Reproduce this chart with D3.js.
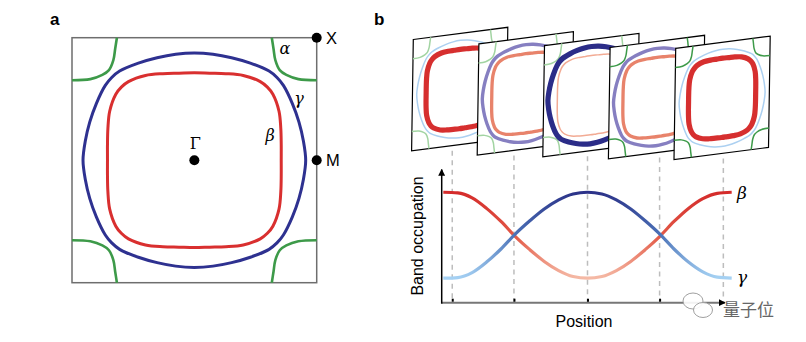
<!DOCTYPE html>
<html><head><meta charset="utf-8">
<script src="https://cdn.jsdelivr.net/npm/d3@7"></script>
<style>body{margin:0;background:#fff}svg{display:block}</style>
</head><body>
<script>
// Fermi surface contours: radius (in units of Gamma-M) at angles of the first quadrant
var fsAngles = [0, 10, 20, 30, 40, 45, 50, 60, 70, 80, 90];
var betaRadius = [0.71, 0.721, 0.752, 0.799, 0.838, 0.844, 0.838, 0.799, 0.752, 0.721, 0.713];
var gammaRadius = [0.91, 0.905, 0.91, 0.925, 0.95, 0.955, 0.95, 0.915, 0.89, 0.878, 0.875];
// alpha pocket around X = (1,1), mirrored to the other corners
var alphaKx = [0.633, 0.647, 0.662, 0.698, 0.752, 0.85, 1.0];
var alphaKy = [1.0, 0.91, 0.816, 0.735, 0.696, 0.662, 0.653];

// band occupation along position
var position = [0, 5, 10, 15, 20, 25, 30, 35, 40, 45, 50, 55, 60, 65, 70, 75, 80, 85, 90, 95, 100];
var betaOcc = [0.843, 0.838, 0.80, 0.72, 0.62, 0.505, 0.405, 0.315, 0.245, 0.20, 0.187, 0.20, 0.245, 0.315, 0.405, 0.505, 0.62, 0.72, 0.795, 0.835, 0.843];
var gammaOcc = [0.187, 0.192, 0.23, 0.31, 0.41, 0.525, 0.625, 0.715, 0.785, 0.83, 0.843, 0.83, 0.785, 0.715, 0.625, 0.525, 0.41, 0.31, 0.235, 0.195, 0.187];

// snapshots shown as the tilted Fermi surface panels
var snapPos = [3.1, 24.5, 50, 75, 97.1];
var snapBeta = [0.84, 0.51, 0.19, 0.51, 0.84];
var snapGamma = [0.19, 0.52, 0.84, 0.52, 0.19];

var W = 806, H = 342;
var svg = d3.select("body").append("svg").attr("width", W).attr("height", H);
var sans = "'Liberation Sans', Arial, sans-serif";
var serif = "'DejaVu Serif', 'Liberation Serif', serif";

// build a closed four-fold contour from the quadrant radii
function contour(radius) {
    var pts = [];
    [[1, 1], [-1, 1], [-1, -1], [1, -1]].forEach(function(s, q) {
        var idx = d3.range(fsAngles.length);
        if (q % 2 == 1) idx.reverse();
        idx.forEach(function(i, j) {
            if (q > 0 && j == 0) return;
            if (q == 3 && j == idx.length - 1) return;
            var a = fsAngles[i] * Math.PI / 180;
            pts.push([s[0] * radius[i] * Math.cos(a), s[1] * radius[i] * Math.sin(a)]);
        });
    });
    return pts;
}
function pockets() {
    return [[1, 1], [-1, 1], [-1, -1], [1, -1]].map(function(s) {
        return alphaKx.map(function(x, i) { return [s[0] * x, s[1] * alphaKy[i]]; });
    });
}

// ---------- panel a ----------
var kx = d3.scaleLinear().domain([-1, 1]).range([72, 316.7]);
var ky = d3.scaleLinear().domain([-1, 1]).range([282.7, 37.7]);
var closedA = d3.line().x(function(d) { return kx(d[0]); }).y(function(d) { return ky(d[1]); }).curve(d3.curveCatmullRomClosed);
var openA = d3.line().x(function(d) { return kx(d[0]); }).y(function(d) { return ky(d[1]); }).curve(d3.curveCatmullRom);

svg.append("rect")
    .attr("x", kx(-1)).attr("y", ky(1))
    .attr("width", kx(1) - kx(-1)).attr("height", ky(-1) - ky(1))
    .attr("fill", "none").attr("stroke", "#6e6e6e").attr("stroke-width", 1.5);

pockets().forEach(function(p) {
    svg.append("path").attr("d", openA(p))
        .attr("fill", "none").attr("stroke", "#3d9a49").attr("stroke-width", 2.6);
});
svg.append("path").attr("d", closedA(contour(gammaRadius)))
    .attr("fill", "none").attr("stroke", "#2e3190").attr("stroke-width", 3);
svg.append("path").attr("d", closedA(contour(betaRadius)))
    .attr("fill", "none").attr("stroke", "#d92f2f").attr("stroke-width", 3);

[[0, 0], [1, 0], [1, 1]].forEach(function(p) {
    svg.append("circle").attr("cx", kx(p[0])).attr("cy", ky(p[1])).attr("r", 5).attr("fill", "#000");
});

svg.append("text").attr("x", 50).attr("y", 25).attr("font-family", sans).attr("font-weight", 700)
    .attr("font-size", 17).text("a");
svg.append("text").attr("x", 326).attr("y", 43.5).attr("font-family", sans).attr("font-size", 16.5).text("X");
svg.append("text").attr("x", 326).attr("y", 165.5).attr("font-family", sans).attr("font-size", 16.5).text("M");
svg.append("text").attr("x", kx(0) + 1).attr("y", 149).attr("text-anchor", "middle")
    .attr("font-family", serif).attr("font-size", 16).text("Γ");
[["α", 285, 54], ["γ", 299, 104], ["β", 270, 141]].forEach(function(t) {
    svg.append("text").attr("x", t[1]).attr("y", t[2]).attr("text-anchor", "middle")
        .attr("font-family", serif).attr("font-style", "italic").attr("font-size", 16).text(t[0]);
});

// ---------- panel b, bottom chart ----------
var xb = d3.scaleLinear().domain([0, 100]).range([443.3, 731.7]);
var yb = d3.scaleLinear().domain([0, 1]).range([302.7, 171.7]);

var betaLineColor = d3.scaleLinear().domain([0.19, 0.51, 0.84]).range(["#f5b9a5", "#e35a47", "#d42b2b"]);
var gammaLineColor = d3.scaleLinear().domain([0.19, 0.51, 0.84]).range(["#a5d1f3", "#4c74b9", "#2c3389"]);
var betaPanelColor = d3.scaleLinear().domain([0.19, 0.51, 0.84]).range(["#f2ab94", "#e8836b", "#d62f2f"]);
var gammaPanelColor = d3.scaleLinear().domain([0.19, 0.51, 0.84]).range(["#acd0f1", "#8982c3", "#2b2c88"]);
var widthScale = d3.scaleLinear().domain([0.19, 0.84]).range([1.5, 5.2]);
var alphaShade = ["#a2d4a2", "#a2d4a2", "#a2d4a2", "#3d9a49", "#3d9a49"];

// tilted Fermi surface panels
var pu = d3.scaleLinear().domain([-1, 1]).range([0, 100]);
var pv = d3.scaleLinear().domain([-1, 1]).range([100, 0]);
var closedP = d3.line().x(function(d) { return pu(d[0]); }).y(function(d) { return pv(d[1]); }).curve(d3.curveCatmullRomClosed);
var openP = d3.line().x(function(d) { return pu(d[0]); }).y(function(d) { return pv(d[1]); }).curve(d3.curveCatmullRom);
var panelTop = [39.5, 43.8, 45.6, 47.5, 48.3];

snapPos.forEach(function(p, i) {
    var ox = 413.3 + i * 65.6, oy = panelTop[i];
    var g = svg.append("g").attr("transform", "matrix(0.945,-0.122,-0.017,1.113," + ox + "," + oy + ")");
    g.append("rect").attr("width", 100).attr("height", 100)
        .attr("fill", "#fff").attr("stroke", "#000").attr("stroke-width", 1.2)
        .attr("vector-effect", "non-scaling-stroke");
    pockets().forEach(function(q) {
        g.append("path").attr("d", openP(q)).attr("fill", "none")
            .attr("stroke", alphaShade[i]).attr("stroke-width", 1.5)
            .attr("vector-effect", "non-scaling-stroke");
    });
    g.append("path").attr("d", closedP(contour(gammaRadius))).attr("fill", "none")
        .attr("stroke", gammaPanelColor(snapGamma[i])).attr("stroke-width", widthScale(snapGamma[i]))
        .attr("vector-effect", "non-scaling-stroke");
    g.append("path").attr("d", closedP(contour(betaRadius))).attr("fill", "none")
        .attr("stroke", betaPanelColor(snapBeta[i])).attr("stroke-width", widthScale(snapBeta[i]))
        .attr("vector-effect", "non-scaling-stroke");

    // dashed guide from the panel down to the axis
    var xp = xb(p);
    var bottom = oy + 111.3 - 0.122 * ((xp - ox) / 0.945);
    svg.append("line").attr("x1", xp).attr("x2", xp).attr("y1", bottom + 5).attr("y2", yb(0))
        .attr("stroke", "#bdbdbd").attr("stroke-width", 1.5).attr("stroke-dasharray", "5,4.5");
});

// arrowheads
var defs = svg.append("defs");
defs.append("marker").attr("id", "arr").attr("viewBox", "0 0 10 10").attr("refX", 9).attr("refY", 5)
    .attr("markerWidth", 7).attr("markerHeight", 7).attr("markerUnits", "userSpaceOnUse").attr("orient", "auto")
    .append("path").attr("d", "M0,0L10,5L0,10z").attr("fill", "#000");

svg.append("line").attr("x1", 441.7).attr("x2", 725).attr("y1", yb(0)).attr("y2", yb(0))
    .attr("stroke", "#777").attr("stroke-width", 2).attr("marker-end", "url(#arr)");
svg.append("line").attr("x1", 441.7).attr("x2", 441.7).attr("y1", yb(0) + 1).attr("y2", 169.5)
    .attr("stroke", "#000").attr("stroke-width", 1.5).attr("marker-end", "url(#arr)");

var ax = svg.append("g").attr("transform", "translate(0," + (yb(0) - 1) + ")")
    .call(d3.axisTop(xb).tickValues(snapPos.slice(0, 4)).tickSize(3).tickSizeOuter(0).tickFormat(""));
ax.select(".domain").remove();
ax.selectAll(".tick line").attr("stroke", "#000").attr("stroke-width", 2);

// gradient-coloured occupation curves
function gradient(id, occ, colour) {
    var lg = defs.append("linearGradient").attr("id", id).attr("gradientUnits", "userSpaceOnUse")
        .attr("x1", xb(0)).attr("x2", xb(100)).attr("y1", 0).attr("y2", 0);
    position.forEach(function(p, i) {
        lg.append("stop").attr("offset", p / 100).attr("stop-color", colour(occ[i]));
    });
}
gradient("gBeta", betaOcc, betaLineColor);
gradient("gGamma", gammaOcc, gammaLineColor);

var occLine = function(occ) {
    return d3.line().x(function(d, i) { return xb(position[i]); }).y(function(d) { return yb(d); })
        .curve(d3.curveMonotoneX)(occ);
};
svg.append("path").attr("d", occLine(betaOcc)).attr("fill", "none")
    .attr("stroke", "url(#gBeta)").attr("stroke-width", 3.2);
svg.append("path").attr("d", occLine(gammaOcc)).attr("fill", "none")
    .attr("stroke", "url(#gGamma)").attr("stroke-width", 3.2);

svg.append("text").attr("x", 374).attr("y", 25).attr("font-family", sans).attr("font-weight", 700)
    .attr("font-size", 17).text("b");
svg.append("text").attr("x", 742).attr("y", yb(betaOcc[20]) + 7).attr("text-anchor", "middle")
    .attr("font-family", serif).attr("font-style", "italic").attr("font-size", 17).text("β");
svg.append("text").attr("x", 742).attr("y", yb(gammaOcc[20]) + 5).attr("text-anchor", "middle")
    .attr("font-family", serif).attr("font-style", "italic").attr("font-size", 17).text("γ");
svg.append("text").attr("x", 584).attr("y", 327).attr("text-anchor", "middle")
    .attr("font-family", sans).attr("font-size", 16).text("Position");
svg.append("text").attr("transform", "translate(423,236) rotate(-90)").attr("text-anchor", "middle")
    .attr("font-family", sans).attr("font-size", 16).text("Band occupation");

// watermark
var wm = svg.append("g").attr("fill", "rgba(255,255,255,0.9)").attr("stroke", "#a0a0a0").attr("stroke-width", 1);
wm.append("ellipse").attr("cx", 693).attr("cy", 301).attr("rx", 10).attr("ry", 8);
wm.append("ellipse").attr("cx", 703).attr("cy", 310).attr("rx", 9.5).attr("ry", 7.5);
svg.append("text").attr("x", 723).attr("y", 316).attr("font-family", "'Noto Sans CJK SC', sans-serif")
    .attr("font-size", 17).attr("fill", "#666").text("量子位");
</script>
</body></html>
